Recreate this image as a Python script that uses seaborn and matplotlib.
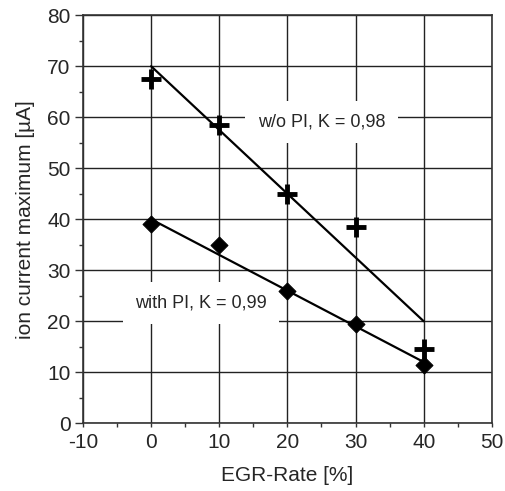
import matplotlib
matplotlib.use("Agg")
import matplotlib.pyplot as plt
import seaborn as sns
import numpy as np
import pandas as pd
from matplotlib.ticker import MultipleLocator

egr = [0, 10, 20, 30, 40]
wo_pi = [67.5, 58.5, 45, 38.5, 14.5]
with_pi = [39, 35, 26, 19.5, 11.5]
fit_x = [0, 40]
fit_wo = [70, 20]
fit_with = [40, 12]
label_wo = "w/o PI, K = 0,98"
label_with = "with PI, K = 0,99"

sns.set_style("white")
plt.rcParams['font.family'] = ['Liberation Sans', 'DejaVu Sans']
plt.rcParams['axes.unicode_minus'] = False

fig = plt.figure(figsize=(5.06, 4.91), dpi=100)
ax = fig.add_axes([0.164, 0.138, 0.808, 0.831])

ax.grid(True, color="#222222", linewidth=1.0, zorder=0)
ax.set_axisbelow(True)

sns.lineplot(x=fit_x, y=fit_wo, ax=ax, color="black", linewidth=1.6, zorder=3)
sns.lineplot(x=fit_x, y=fit_with, ax=ax, color="black", linewidth=1.6, zorder=3)
sns.scatterplot(x=egr, y=wo_pi, ax=ax, marker="+", s=220, color="black",
                linewidth=3.5, zorder=4)
sns.scatterplot(x=egr, y=with_pi, ax=ax, marker="D", s=75, color="black",
                edgecolor="black", zorder=4)

bbox = dict(facecolor="white", edgecolor="none", pad=9)
ax.text(25, 59, label_wo, fontsize=13, ha="center", va="center", bbox=bbox, zorder=2)
ax.text(7.3, 23.5, label_with, fontsize=13, ha="center", va="center", bbox=bbox, zorder=2)

ax.set_xlim(-10, 50)
ax.set_ylim(0, 80)
ax.xaxis.set_major_locator(MultipleLocator(10))
ax.xaxis.set_minor_locator(MultipleLocator(5))
ax.yaxis.set_major_locator(MultipleLocator(10))
ax.yaxis.set_minor_locator(MultipleLocator(5))
ax.tick_params(axis="both", which="major", direction="out", length=6, width=1,
               color="#333333", labelsize=15, bottom=True, left=True)
ax.tick_params(axis="x", which="major", pad=4, length=3)
ax.tick_params(axis="y", which="major", pad=3)
ax.tick_params(axis="both", which="minor", direction="out", length=3, width=1,
               color="#333333", bottom=True, left=True)
for s in ax.spines.values():
    s.set_color("#333333")
    s.set_linewidth(1.2)

ax.set_xlabel("EGR-Rate [%]", fontsize=15, labelpad=10)
ax.set_ylabel("ion current maximum [µA]", fontsize=15, labelpad=9)

fig.savefig("out.png", dpi=100)
